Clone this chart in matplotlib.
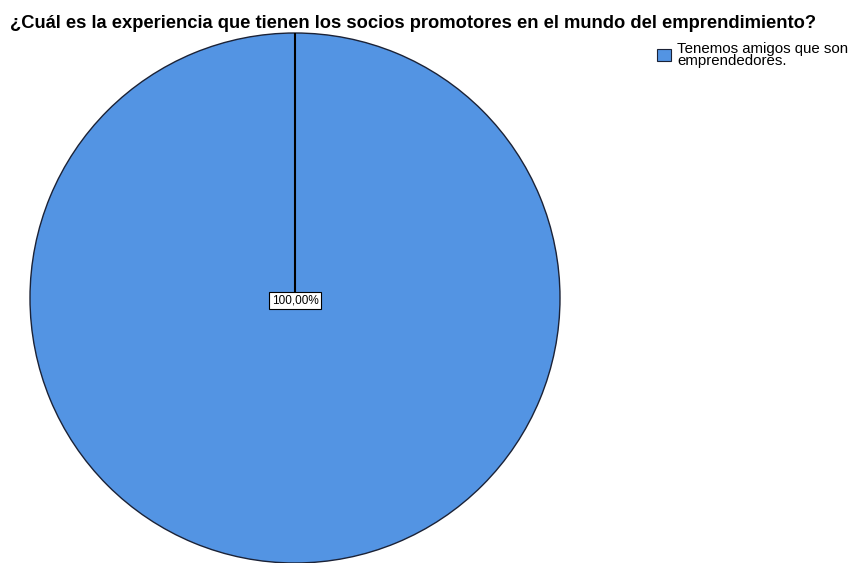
import matplotlib.pyplot as plt
from matplotlib.patches import Rectangle
import numpy as np

categories = ["Tenemos amigos que son\nemprendedores."]
percentages = [100.0]
colors = ["#5394E3"]

plt.rcParams['font.family'] = ['Liberation Sans', 'DejaVu Sans']

W, H = 849, 563
fig = plt.figure(figsize=(W / 100, H / 100), dpi=100)

# pie axes placed in pixel coordinates
ax = fig.add_axes([30 / W, 0 / H, 530 / W, 530 / H])
start = 90
wedges, _ = ax.pie(percentages, colors=colors, startangle=start, counterclock=False,
                   radius=1.0, wedgeprops=dict(edgecolor="#1b2236", linewidth=1.0))
ax.set_xlim(-1, 1)
ax.set_ylim(-1, 1)
ax.set_aspect('equal')
ax.axis('off')

# radial boundary line of the single slice
ang = np.deg2rad(start)
ax.plot([0, np.cos(ang)], [0, np.sin(ang)], color="black", linewidth=1.5)

# value label
label = f"{percentages[0]:.2f}".replace(".", ",") + "%"
ax.text(0, -0.01, label, ha="center", va="center", fontsize=8.5,
        bbox=dict(boxstyle="square,pad=0.2", facecolor="white", edgecolor="black", linewidth=0.8))

fig.text(10 / W, 1 - 28 / H,
         "¿Cuál es la experiencia que tienen los socios promotores en el mundo del emprendimiento?",
         fontsize=13.2, fontweight="bold", ha="left", va="baseline")

# legend
fig.patches.append(Rectangle((657 / W, 1 - 61 / H), 14 / W, 12 / H, transform=fig.transFigure,
                             facecolor=colors[0], edgecolor="#1b2236", linewidth=0.8))
fig.text(677 / W, 1 - 65 / H, categories[0], fontsize=10.8, ha="left", va="baseline",
         linespacing=0.8, multialignment="left")

fig.savefig("out.png", dpi=100)
